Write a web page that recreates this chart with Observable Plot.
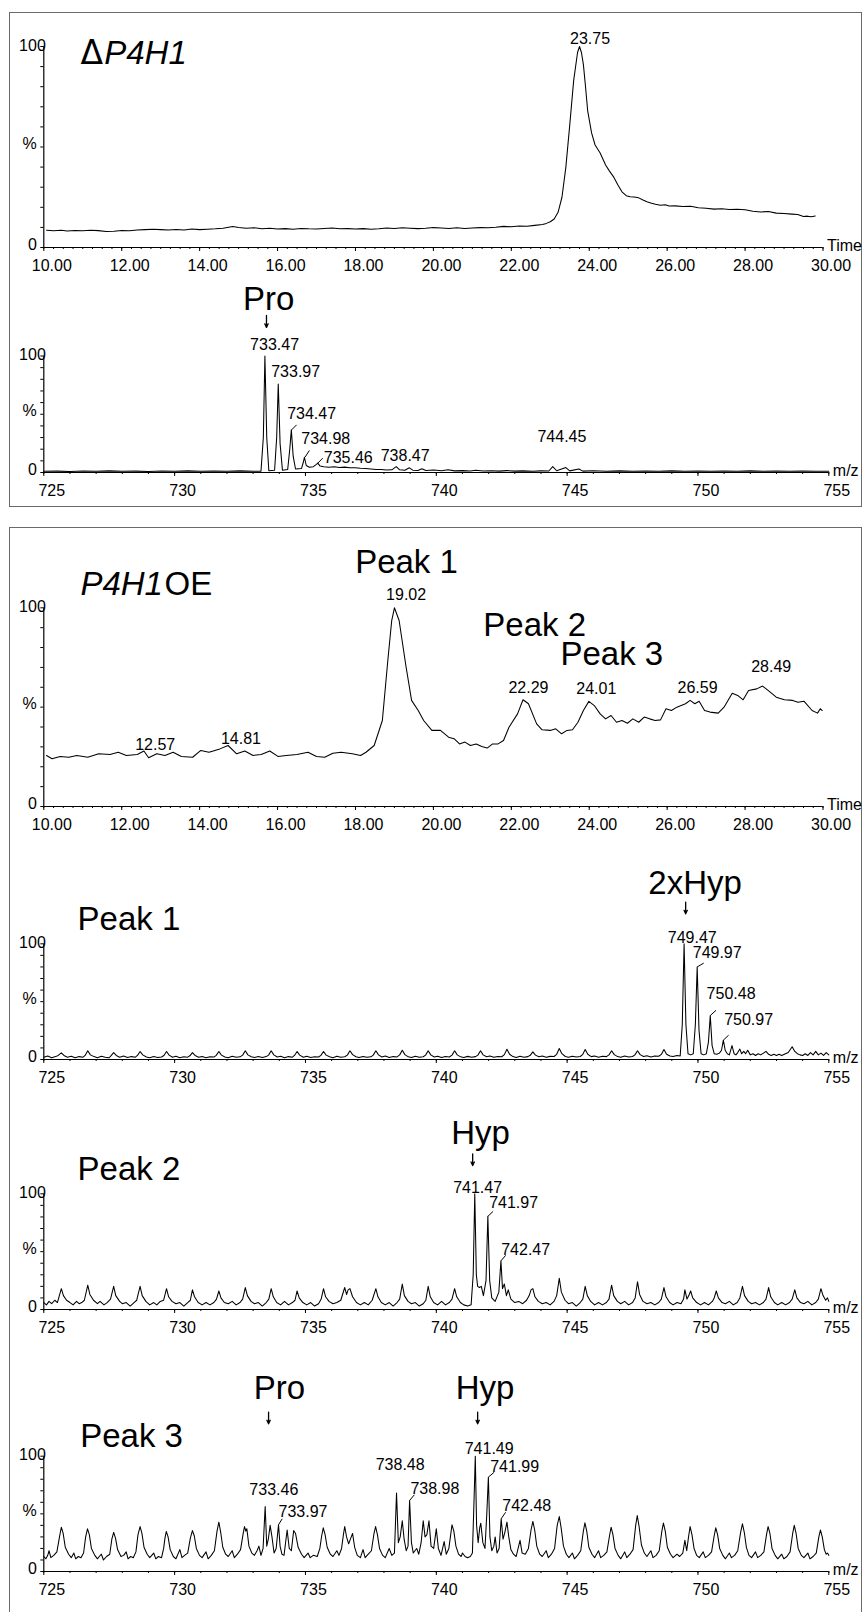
<!DOCTYPE html>
<html><head><meta charset="utf-8">
<script src="https://cdn.jsdelivr.net/npm/d3@7"></script>
<script src="https://cdn.jsdelivr.net/npm/@observablehq/plot@0.6"></script>
<style>
html,body{margin:0;padding:0;background:#fff;}
#page{position:relative;width:863px;height:1612px;overflow:hidden;background:#fff;}
.box{position:absolute;border:1.5px solid #6a6a6a;box-sizing:border-box;}
</style></head>
<body><div id="page">
<div class="box" style="left:9px;top:12px;width:853px;height:495px"></div>
<div class="box" style="left:9px;top:527px;width:853px;height:1120px"></div>
</div>
<script>
// ---------- axis ticks ----------
const yTicks = [0,10,20,30,40,50,60,70,80,90,100];
const timeTicks = [10,12,14,16,18,20,22,24,26,28,30];
const timeTickLabels = ["10.00","12.00","14.00","16.00","18.00","20.00","22.00","24.00","26.00","28.00","30.00"];
const timeMinor = d3.range(40, 121).map(i => i / 4);
const mzTicks = [725,730,735,740,745,750,755];
const mzTickLabels = ["725","730","735","740","745","750","755"];
const mzMinor = d3.range(725, 756);

// ---------- ΔP4H1 chromatogram (time, %) ----------
const chromDelta = [[10.07,8.6],[10.25,8.3],[10.45,8.6],[10.6,8.2],[10.8,8.5],[11.0,8.3],[11.2,8.6],[11.4,8.4],[11.6,8.0],[11.8,8.1],[12.0,8.5],[12.2,8.3],[12.4,8.7],[12.6,8.9],[12.8,9.1],[13.0,8.9],[13.2,8.7],[13.4,9.0],[13.6,8.7],[13.8,9.2],[14.0,8.9],[14.2,9.1],[14.4,9.3],[14.6,9.6],[14.85,10.4],[15.0,10.0],[15.2,9.6],[15.4,9.8],[15.6,9.3],[15.8,9.6],[16.0,9.2],[16.2,9.4],[16.4,9.1],[16.6,9.5],[16.8,9.3],[17.0,9.2],[17.2,9.5],[17.4,9.7],[17.6,9.3],[17.8,9.4],[18.0,9.2],[18.2,9.4],[18.4,9.1],[18.6,9.3],[18.8,9.7],[19.0,9.5],[19.2,9.8],[19.4,9.6],[19.6,9.4],[19.8,9.6],[20.0,9.9],[20.2,9.7],[20.4,9.5],[20.6,9.8],[20.8,9.5],[21.0,9.7],[21.2,9.9],[21.4,9.8],[21.6,10.1],[21.8,10.5],[22.0,10.3],[22.2,10.7],[22.4,10.6],[22.6,11.0],[22.8,11.4],[22.9,12.0],[23.0,12.8],[23.1,14.2],[23.2,17.5],[23.3,25],[23.4,40],[23.5,61],[23.6,83],[23.7,97],[23.75,100],[23.8,97],[23.85,91],[23.9,81],[23.96,68],[24.06,57],[24.15,51],[24.28,47],[24.42,41],[24.52,38],[24.63,35],[24.74,31],[24.84,27.7],[24.95,25.8],[25.05,25.2],[25.15,25.1],[25.27,24.7],[25.38,23.6],[25.48,22.8],[25.6,22.0],[25.7,21.5],[25.83,21.0],[25.95,21.3],[26.05,20.6],[26.2,20.7],[26.4,20.4],[26.6,20.5],[26.8,19.8],[27.0,19.5],[27.2,19.1],[27.4,19.3],[27.6,18.9],[27.8,19.0],[28.0,18.8],[28.2,18.0],[28.4,17.7],[28.6,17.9],[28.8,17.1],[29.0,16.9],[29.2,16.6],[29.35,16.4],[29.5,15.4],[29.6,15.6],[29.7,15.3],[29.8,15.7]];

// ---------- ΔP4H1 spectrum (m/z, %) ----------
const specDelta = [[725.0,1.0],[725.5,1.2],[726.0,0.9],[726.5,1.3],[727.0,1.0],[727.5,1.4],[728.0,1.0],[728.5,1.2],[729.0,0.9],[729.5,1.3],[730.0,1.1],[730.5,1.4],[731.0,1.0],[731.5,1.3],[732.0,1.0],[732.5,1.4],[733.0,1.1],[733.3,1.2],[733.39,30],[733.45,100],[733.52,30],[733.6,1.5],[733.82,2],[733.9,30],[733.96,76],[734.03,25],[734.12,2],[734.32,2.5],[734.4,20],[734.46,36.6],[734.53,14],[734.62,3],[734.85,3.5],[734.92,9],[734.96,13.1],[735.03,6],[735.15,4.5],[735.3,5],[735.42,7],[735.47,8],[735.56,5.5],[735.7,5],[735.9,4.5],[736.1,5],[736.3,4.3],[736.5,4.6],[736.7,4.0],[736.9,4.1],[737.1,3.6],[737.3,3.5],[737.5,3.0],[737.7,2.6],[737.9,2.5],[738.1,2.2],[738.3,2.3],[738.47,5],[738.6,2.3],[738.8,2.0],[738.97,4.0],[739.1,2],[739.3,1.8],[739.45,3.2],[739.6,1.7],[739.9,2.1],[740.2,1.5],[740.45,2.4],[740.7,1.4],[741.0,1.6],[741.3,1.3],[741.5,2.0],[741.8,1.3],[742.1,1.5],[742.4,1.2],[742.7,1.6],[743.0,1.2],[743.3,1.4],[743.7,1.1],[744.0,1.4],[744.3,1.3],[744.45,5.0],[744.6,1.5],[744.95,4.2],[745.1,1.4],[745.45,3],[745.6,1.2],[746.0,1.5],[746.5,1.1],[747.0,1.4],[747.5,1.0],[748.0,1.3],[748.5,1.0],[749.0,1.4],[749.5,1.1],[750.0,1.3],[750.5,1.0],[751.0,1.2],[751.5,1.0],[752.0,1.4],[752.5,1.1],[753.0,1.3],[753.5,1.0],[754.0,1.2],[754.5,1.0],[755.0,1.1]];

// ---------- P4H1OE chromatogram ----------
const chromOE = [[10.07,25.7],[10.21,24.0],[10.42,25.2],[10.64,24.8],[10.85,25.7],[11.13,24.8],[11.41,26.5],[11.70,26.2],[11.91,27.3],[12.12,25.7],[12.40,26.2],[12.57,27.9],[12.69,24.5],[12.90,26.5],[13.11,25.7],[13.32,27.3],[13.53,25.2],[13.82,24.8],[14.03,28.2],[14.24,27.3],[14.52,29.0],[14.73,30.7],[14.95,26.5],[15.16,27.9],[15.37,25.7],[15.58,26.2],[15.80,27.9],[16.01,25.2],[16.22,25.7],[16.50,26.2],[16.78,27.3],[17.00,25.2],[17.21,24.8],[17.42,26.8],[17.63,27.3],[17.92,26.5],[18.13,25.7],[18.27,27.3],[18.48,30.7],[18.69,43.3],[18.83,73.5],[18.93,93.6],[19.00,100],[19.12,93.6],[19.30,70.1],[19.44,53.4],[19.61,48.3],[19.75,43.3],[19.96,38.3],[20.18,38.3],[20.39,34.9],[20.53,34.1],[20.67,31.5],[20.81,32.4],[20.95,30.7],[21.10,31.5],[21.24,30.2],[21.38,29.4],[21.52,31.5],[21.66,31.5],[21.80,33.2],[21.94,39.9],[22.16,46.6],[22.30,53.7],[22.44,51.7],[22.65,41.6],[22.79,38.6],[23.00,38.3],[23.14,39.1],[23.29,36.6],[23.43,38.3],[23.57,38.6],[23.71,42.4],[23.85,48.3],[23.99,52.9],[24.13,50.8],[24.28,46.6],[24.42,44.1],[24.56,45.8],[24.70,42.4],[24.84,43.3],[24.98,41.9],[25.12,44.1],[25.27,42.4],[25.41,45.0],[25.55,44.1],[25.69,43.3],[25.83,43.6],[25.97,49.2],[26.11,48.3],[26.25,50.0],[26.47,51.7],[26.59,53.4],[26.71,51.7],[26.82,53.0],[26.96,48.3],[27.10,47.5],[27.31,47.0],[27.46,50.0],[27.67,57.0],[27.81,55.9],[27.95,53.7],[28.09,58.4],[28.30,59.2],[28.45,60.6],[28.59,58.4],[28.80,55.0],[29.01,53.7],[29.22,53.4],[29.36,52.5],[29.51,53.0],[29.72,48.3],[29.86,47.0],[29.93,49.2],[29.98,48.3]];

// ---------- Peak 1 spectrum ----------
const specPeak1 = [[725.0,2],[725.15,3],[725.3,1.5],[725.45,2.5],[725.55,3.5],[725.67,5.7],[725.77,3.5],[725.9,2],[726.05,2.8],[726.2,1.5],[726.35,2.5],[726.5,2],[726.58,3.5],[726.68,7.5],[726.78,4],[726.92,2.5],[727.05,1.6],[727.2,2.8],[727.35,2],[727.5,1.5],[727.58,3.5],[727.67,6],[727.77,3.5],[727.9,2],[728.05,3],[728.2,1.8],[728.35,2.5],[728.5,2],[728.58,3.5],[728.68,6.9],[728.78,4],[728.92,2.2],[729.05,1.6],[729.2,2.5],[729.35,1.8],[729.5,2.2],[729.59,3.5],[729.69,6.9],[729.79,3.8],[729.92,2],[730.05,2.8],[730.2,1.5],[730.35,2.4],[730.5,2],[730.58,3.2],[730.68,6],[730.78,3.5],[730.92,2],[731.05,2.6],[731.2,1.6],[731.35,2.4],[731.5,2.1],[731.59,3.6],[731.69,6.9],[731.79,3.8],[731.92,2.2],[732.05,1.5],[732.2,2.8],[732.35,2],[732.5,2.3],[732.6,3.8],[732.7,7.5],[732.8,4],[732.93,2.4],[733.05,1.8],[733.2,2.6],[733.35,1.7],[733.5,2.5],[733.59,3.8],[733.69,7.5],[733.79,4],[733.92,2.2],[734.05,2.8],[734.2,1.6],[734.35,2.5],[734.5,2],[734.58,3.5],[734.68,6.9],[734.78,3.8],[734.92,2],[735.05,2.8],[735.2,1.8],[735.35,2.4],[735.5,2.2],[735.59,3.6],[735.69,6.9],[735.79,3.8],[735.92,2.3],[736.05,1.6],[736.2,2.9],[736.35,2],[736.5,2.4],[736.6,3.8],[736.7,7.5],[736.8,4.2],[736.93,2.4],[737.05,1.8],[737.2,2.6],[737.35,2],[737.5,2.3],[737.59,3.8],[737.69,7.5],[737.79,4],[737.92,2.2],[738.05,3],[738.2,1.8],[738.35,2.5],[738.5,2.2],[738.6,4],[738.7,8],[738.8,4.2],[738.93,2.3],[739.05,1.8],[739.2,2.8],[739.35,2],[739.5,2.4],[739.59,3.8],[739.69,7.5],[739.79,4],[739.92,2.2],[740.05,2.9],[740.2,1.7],[740.35,2.6],[740.5,2.2],[740.6,3.8],[740.7,7.5],[740.8,4],[740.93,2.3],[741.05,1.8],[741.2,2.7],[741.35,2],[741.5,2.5],[741.59,3.8],[741.69,7.5],[741.79,4],[741.92,2.4],[742.05,3],[742.2,1.9],[742.35,2.6],[742.5,2.4],[742.6,4.2],[742.7,8.9],[742.8,4.5],[742.93,2.5],[743.05,1.8],[743.2,2.8],[743.35,2],[743.5,2.5],[743.59,3.6],[743.69,6.6],[743.79,3.8],[743.92,2.3],[744.05,3],[744.2,2],[744.35,2.7],[744.5,2.6],[744.6,4.5],[744.7,9.5],[744.8,5],[744.93,2.6],[745.05,2],[745.2,2.9],[745.35,2.2],[745.5,2.6],[745.59,4.2],[745.69,8.6],[745.79,4.5],[745.92,2.5],[746.05,3],[746.2,2],[746.35,2.8],[746.5,2.5],[746.6,4],[746.7,7.5],[746.8,4.2],[746.93,2.5],[747.05,2],[747.2,3],[747.35,2.2],[747.5,2.6],[747.59,4],[747.69,7.5],[747.79,4.2],[747.92,2.6],[748.05,3.2],[748.2,2.2],[748.35,3],[748.5,2.8],[748.6,4.4],[748.7,8.6],[748.8,4.6],[748.93,3],[749.05,2.5],[749.2,3.5],[749.32,3],[749.4,30],[749.47,100],[749.54,30],[749.62,5],[749.72,4],[749.82,5],[749.9,30],[749.97,80],[750.04,25],[750.12,5],[750.22,4],[750.32,5],[750.4,15],[750.47,38],[750.54,12],[750.62,5],[750.72,4.5],[750.82,5.5],[750.9,8],[750.97,16.7],[751.04,8],[751.12,5],[751.2,4],[751.3,12],[751.38,5],[751.45,4],[751.52,6],[751.6,9],[751.67,5],[751.75,7],[751.82,5],[751.9,8],[752.0,4],[752.1,5],[752.2,3.5],[752.3,5],[752.4,4],[752.5,5.5],[752.6,7],[752.7,4.5],[752.8,3.5],[752.9,4.5],[753.0,3.5],[753.1,4.5],[753.2,3.5],[753.3,4.5],[753.45,6],[753.6,11],[753.7,7],[753.8,5],[753.9,4],[754.0,3.5],[754.1,5],[754.2,3.5],[754.3,6],[754.4,4],[754.5,7],[754.6,4],[754.7,5.5],[754.8,3.5],[754.9,6],[755.0,4]];

// ---------- Peak 2 spectrum ----------
const specPeak2 = [[725.0,6],[725.1,4],[725.2,7],[725.3,5],[725.42,8],[725.52,6],[725.67,18],[725.75,12],[725.87,8],[726.0,6],[726.12,4],[726.25,7],[726.35,5],[726.45,6],[726.55,8],[726.68,21],[726.76,13],[726.9,8],[727.05,5],[727.15,7],[727.3,4],[727.42,6],[727.55,9],[727.67,20],[727.75,12],[727.9,7],[728.0,5],[728.15,6],[728.3,3],[728.45,6],[728.55,8],[728.68,20],[728.76,12],[728.9,7],[729.05,4],[729.2,6],[729.32,4],[729.45,7],[729.58,8],[729.69,18],[729.77,11],[729.9,7],[730.05,5],[730.2,6],[730.35,3],[730.5,6],[730.6,8],[730.68,17],[730.76,11],[730.9,6],[731.05,4],[731.2,6],[731.35,4],[731.5,6],[731.6,9],[731.69,16],[731.77,10],[731.9,6],[732.05,5],[732.2,7],[732.35,4],[732.5,6],[732.6,9],[732.7,19],[732.78,12],[732.92,7],[733.05,5],[733.2,6],[733.35,3],[733.5,6],[733.6,9],[733.69,18],[733.77,11],[733.9,6],[734.05,4],[734.2,7],[734.35,4],[734.5,6],[734.6,8],[734.68,16],[734.76,10],[734.9,6],[735.05,4],[735.2,6],[735.35,3],[735.5,5],[735.6,9],[735.69,18],[735.77,11],[735.9,7],[736.05,5],[736.2,6],[736.35,8],[736.5,19],[736.57,13],[736.63,17],[736.7,18],[736.8,11],[736.95,6],[737.1,4],[737.25,6],[737.4,4],[737.55,8],[737.69,18],[737.77,11],[737.9,6],[738.05,4],[738.2,6],[738.35,3],[738.5,6],[738.6,9],[738.7,22],[738.78,12],[738.92,7],[739.05,5],[739.2,6],[739.35,3],[739.5,5],[739.6,8],[739.69,20],[739.77,11],[739.9,6],[740.05,4],[740.2,7],[740.35,4],[740.5,6],[740.6,9],[740.7,18],[740.78,11],[740.92,6],[741.05,4],[741.2,3],[741.33,4],[741.41,30],[741.47,100],[741.53,30],[741.58,20],[741.65,19],[741.72,20],[741.8,12],[741.9,25],[741.97,80.5],[742.04,25],[742.12,10],[742.25,7],[742.39,15],[742.47,42],[742.53,18],[742.6,22],[742.68,12],[742.75,17],[742.85,9],[743.0,6],[743.15,7],[743.3,5],[743.45,8],[743.55,12],[743.62,17],[743.69,18],[743.77,11],[743.9,7],[744.05,5],[744.2,6],[744.35,4],[744.5,7],[744.6,12],[744.7,27],[744.78,15],[744.92,8],[745.05,5],[745.2,6],[745.35,3],[745.5,6],[745.6,9],[745.69,20],[745.77,12],[745.9,7],[746.05,4],[746.2,6],[746.35,4],[746.5,6],[746.6,9],[746.7,21],[746.78,12],[746.92,7],[747.05,5],[747.2,7],[747.35,4],[747.5,6],[747.6,10],[747.69,24],[747.77,13],[747.9,7],[748.05,5],[748.2,6],[748.35,4],[748.5,6],[748.6,9],[748.7,19],[748.78,11],[748.92,6],[749.05,4],[749.2,6],[749.35,5],[749.45,9],[749.5,17],[749.58,9],[749.65,12],[749.72,16],[749.8,10],[749.95,6],[750.1,4],[750.25,6],[750.4,4],[750.55,7],[750.62,10],[750.7,16],[750.78,10],[750.92,6],[751.05,5],[751.2,7],[751.35,4],[751.5,6],[751.6,10],[751.7,20],[751.78,12],[751.92,7],[752.05,5],[752.2,6],[752.35,4],[752.5,6],[752.6,9],[752.7,19],[752.78,11],[752.92,6],[753.05,4],[753.2,6],[753.35,4],[753.5,6],[753.6,9],[753.7,17],[753.78,10],[753.92,6],[754.05,5],[754.2,7],[754.35,4],[754.5,6],[754.6,9],[754.7,18],[754.78,12],[754.88,8],[754.95,10],[755.0,7]];

// ---------- Peak 3 spectrum ----------
const specPeak3 = [[725.0,13],[725.08,11],[725.15,14],[725.2,18],[725.27,12],[725.38,14],[725.5,17],[725.6,30],[725.67,38.4],[725.74,33],[725.82,21],[725.95,15],[726.05,12],[726.15,16],[726.22,11],[726.32,13],[726.42,12],[726.52,16],[726.6,30],[726.67,37],[726.74,32],[726.82,20],[726.95,14],[727.05,11],[727.12,13],[727.2,15],[727.28,10],[727.4,13],[727.52,15],[727.6,28],[727.67,34],[727.74,29],[727.82,19],[727.95,13],[728.05,14],[728.15,17],[728.22,11],[728.32,13],[728.42,12],[728.52,17],[728.6,32],[728.68,39],[728.75,33],[728.83,21],[728.95,15],[729.05,12],[729.2,16],[729.28,11],[729.38,13],[729.5,12],[729.58,20],[729.63,29],[729.68,34.7],[729.75,30],[729.83,19],[729.95,13],[730.05,11],[730.2,19],[730.28,12],[730.38,14],[730.5,16],[730.6,29],[730.68,35.5],[730.75,31],[730.83,20],[730.95,14],[731.05,12],[731.2,17],[731.28,11],[731.4,14],[731.52,18],[731.62,35],[731.69,42.8],[731.76,34],[731.84,21],[731.95,15],[732.05,13],[732.2,18],[732.28,12],[732.4,15],[732.52,19],[732.62,33],[732.67,39],[732.72,35],[732.76,37],[732.84,22],[732.95,16],[733.05,14],[733.15,18],[733.22,22],[733.3,14],[733.38,20],[733.46,56.4],[733.52,22],[733.58,28],[733.65,40],[733.72,30],[733.8,16],[733.88,20],[733.97,40.5],[734.03,22],[734.1,15],[734.18,14],[734.3,36],[734.38,20],[734.46,18],[734.55,35.5],[734.62,33],[734.72,21],[734.85,15],[734.95,12],[735.1,16],[735.18,12],[735.3,14],[735.45,13],[735.55,20],[735.62,31],[735.68,37.9],[735.75,32],[735.83,21],[735.95,15],[736.05,13],[736.2,18],[736.28,14],[736.38,20],[736.45,32],[736.5,39],[736.57,30],[736.65,24],[736.75,30],[736.8,33],[736.88,21],[736.98,14],[737.1,12],[737.2,19],[737.28,12],[737.4,15],[737.52,18],[737.62,33],[737.68,39],[737.75,32],[737.83,20],[737.95,14],[738.05,12],[738.2,20],[738.3,14],[738.4,16],[738.48,68],[738.55,25],[738.62,30],[738.7,44],[738.77,28],[738.85,18],[738.92,22],[738.98,61.6],[739.05,25],[739.12,16],[739.25,20],[739.33,15],[739.42,25],[739.5,44],[739.57,30],[739.64,32],[739.72,44],[739.8,22],[739.9,20],[740.0,37],[740.08,20],[740.18,14],[740.3,26],[740.38,15],[740.48,20],[740.55,32],[740.6,40.5],[740.67,35],[740.75,22],[740.85,15],[740.95,13],[741.0,16],[741.1,13],[741.2,12],[741.3,13],[741.38,16],[741.44,60],[741.49,100],[741.54,40],[741.6,25],[741.66,38],[741.7,41.9],[741.78,25],[741.86,20],[741.93,50],[741.99,81.8],[742.05,30],[742.12,18],[742.2,22],[742.25,30],[742.32,16],[742.4,20],[742.48,45.7],[742.55,28],[742.62,34],[742.7,42.8],[742.77,30],[742.85,19],[742.95,15],[743.05,13],[743.2,27],[743.28,16],[743.4,15],[743.52,20],[743.62,36],[743.69,43.4],[743.76,36],[743.84,22],[743.95,15],[744.05,13],[744.2,18],[744.28,12],[744.4,15],[744.52,20],[744.62,40],[744.7,47.7],[744.77,38],[744.86,22],[744.97,15],[745.07,12],[745.2,16],[745.28,11],[745.4,14],[745.52,18],[745.62,35],[745.68,42.2],[745.75,35],[745.83,21],[745.95,15],[746.05,12],[746.2,18],[746.28,12],[746.4,14],[746.52,17],[746.62,31],[746.68,38.4],[746.75,32],[746.83,20],[746.95,14],[747.05,11],[747.2,17],[747.28,12],[747.4,15],[747.52,19],[747.62,40],[747.68,48.6],[747.75,39],[747.84,23],[747.95,16],[748.05,13],[748.2,18],[748.28,12],[748.4,14],[748.52,18],[748.62,35],[748.68,42],[748.75,35],[748.83,21],[748.95,15],[749.05,12],[749.2,15],[749.3,13],[749.42,16],[749.5,27],[749.57,18],[749.64,30],[749.7,39],[749.77,32],[749.85,20],[749.95,14],[750.05,12],[750.2,17],[750.28,12],[750.4,14],[750.52,17],[750.62,31],[750.68,37.9],[750.75,32],[750.83,20],[750.95,14],[751.05,11],[751.2,16],[751.28,12],[751.4,14],[751.52,18],[751.63,34],[751.7,41.3],[751.77,34],[751.85,21],[751.95,14],[752.05,12],[752.2,17],[752.28,12],[752.4,14],[752.52,17],[752.62,32],[752.68,39],[752.75,33],[752.83,20],[752.95,14],[753.05,11],[753.2,15],[753.28,11],[753.4,13],[753.52,17],[753.62,33],[753.68,40],[753.75,33],[753.83,20],[753.95,14],[754.05,12],[754.2,16],[754.28,11],[754.4,13],[754.52,16],[754.62,30],[754.68,36],[754.75,30],[754.83,19],[754.9,15],[754.95,16],[755.0,14]];

// ---------- annotations (data units) ----------
const labelsChromDelta = [{x:24.02, y:101.3, t:"23.75"}];
const labelsChromOE = [{x:19.30,y:103.7,t:"19.02"},{x:22.44,y:57.0,t:"22.29"},{x:24.18,y:56.4,t:"24.01"},{x:26.78,y:56.9,t:"26.59"},{x:28.67,y:67.6,t:"28.49"},{x:12.86,y:28.2,t:"12.57"},{x:15.06,y:31.7,t:"14.81"}];
const bigChromOE = [{x:19.31,y:117.3,t:"Peak 1"},{x:22.60,y:85.6,t:"Peak 2"},{x:24.58,y:71.0,t:"Peak 3"}];

const centerSpecDelta = [{x:733.82,y:105.3,t:"733.47"},{x:738.81,y:10.3,t:"738.47"},{x:744.80,y:26.0,t:"744.45"}];
const startSpecDelta = [{x:733.69,y:81.8,t:"733.97"},{x:734.30,y:46.1,t:"734.47"},{x:734.84,y:24.6,t:"734.98"},{x:735.70,y:8.0,t:"735.46"}];
const leadSpecDelta = [{x1:734.47,y1:36.6,x2:734.66,y2:40.9},{x1:734.98,y1:13.1,x2:735.15,y2:18.9},{x1:735.47,y1:8.0,x2:735.66,y2:12.3}];

const centerPeak1 = [{x:749.78,y:101,t:"749.47"}];
const startPeak1 = [{x:749.80,y:87.3,t:"749.97"},{x:750.33,y:52.6,t:"750.48"},{x:751.0,y:29.6,t:"750.97"}];
const leadPeak1 = [{x1:749.97,y1:80,x2:750.22,y2:83.3},{x1:750.47,y1:38,x2:750.69,y2:42.5},{x1:750.97,y1:16.7,x2:751.17,y2:21.0}];

const centerPeak2 = [{x:741.58,y:101,t:"741.47"}];
const startPeak2 = [{x:742.02,y:87.3,t:"741.97"},{x:742.48,y:46.8,t:"742.47"}];
const leadPeak2 = [{x1:741.97,y1:80.5,x2:742.17,y2:84.8},{x1:742.47,y1:42,x2:742.65,y2:46.8}];

const centerPeak3 = [{x:742.02,y:102.1,t:"741.49"},{x:738.62,y:87.6,t:"738.48"},{x:733.79,y:66.5,t:"733.46"}];
const startPeak3 = [{x:742.06,y:86.1,t:"741.99"},{x:742.52,y:52.9,t:"742.48"},{x:739.01,y:67.4,t:"738.98"},{x:733.97,y:47.1,t:"733.97"}];
const leadPeak3 = [{x1:741.99,y1:81.8,x2:742.21,y2:86.1},{x1:742.48,y1:45.7,x2:742.65,y2:51.4},{x1:738.98,y1:61.6,x2:739.16,y2:66.5},{x1:733.97,y1:40.5,x2:734.11,y2:45.7}];

const FONT = '"Liberation Sans", Arial, Helvetica, sans-serif';
const page = document.getElementById("page");
const W = 863;

function panel(o) {
  const mt = o.y100 - o.top, mb = 44;
  const h = Math.round(mt + (o.y0 - o.y100) + mb);
  const [x0, x1] = o.domain;
  const T = (arr, opts) => Plot.text(arr || [], {x: "x", y: "y", text: "t", lineAnchor: "bottom", ...opts});
  const marks = [
    Plot.ruleY([0], {stroke: "black", strokeWidth: 1.2}),
    Plot.ruleX([{x: x0, a: 0, b: 100}], {x: "x", y1: "a", y2: "b", stroke: "black", strokeWidth: 1.2}),
    Plot.axisX({ticks: o.minor, tickSize: 2, fill: "none", label: null}),
    Plot.axisX({ticks: o.major, tickSize: 4, fill: "none", label: null}),
    Plot.axisX({ticks: o.major, tickSize: 0, tickPadding: 12, tickFormat: d => o.majorLabels[o.major.indexOf(d)], fontSize: 16, dx: 8, label: null}),
    Plot.axisY({ticks: yTicks, tickSize: 3, fill: "none", label: null}),
    Plot.axisY({ticks: [0, 50], tickSize: 0, tickPadding: 7, tickFormat: d => d === 50 ? "%" : "0", dy: -3, fontSize: 16, label: null}),
    Plot.axisY({ticks: [100], tickSize: 0, tickPadding: -2, tickFormat: () => "100", dy: -1, fontSize: 16, label: null}),
    Plot.text([{x: x1, y: 0, t: o.unit}], {x: "x", y: "y", text: "t", textAnchor: "start", lineAnchor: "bottom", dx: 4, dy: 3, fontSize: 16}),
    Plot.line(o.trace, {x: d => d[0], y: d => d[1], stroke: "black", strokeWidth: 1.05}),
    Plot.link(o.leaders || [], {x1: "x1", y1: "y1", x2: "x2", y2: "y2", stroke: "black", strokeWidth: 1}),
    Plot.arrow(o.arrows || [], {x1: "x", x2: "x", y1: "y1", y2: "y2", stroke: "black", strokeWidth: 1.3, headLength: 6, headAngle: 50}),
    T(o.center, {textAnchor: "middle", fontSize: 16}),
    T(o.start, {textAnchor: "start", fontSize: 16}),
    T(o.big, {textAnchor: "middle", fontSize: 33}),
    T(o.titleUp, {textAnchor: "start", fontSize: 33}),
    T(o.titleDelta, {textAnchor: "start", fontSize: 33, fontFamily: '"DejaVu Sans", sans-serif'}),
    T(o.titleIt, {textAnchor: "start", fontSize: 33, fontStyle: "italic"})
  ];
  const svg = Plot.plot({
    width: W, height: h,
    marginLeft: 43.3, marginRight: W - o.xEnd, marginTop: mt, marginBottom: mb,
    x: {domain: o.domain, axis: null},
    y: {domain: [0, 100], axis: null},
    style: {background: "transparent", overflow: "visible", fontFamily: FONT, color: "black"},
    marks
  });
  svg.style.position = "absolute";
  svg.style.left = "0px";
  svg.style.top = o.top + "px";
  page.appendChild(svg);
}

const chromBase = {domain: [10, 30], xEnd: 822.5, major: timeTicks, majorLabels: timeTickLabels, minor: timeMinor, unit: "Time"};
const specBase = {domain: [725, 755], xEnd: 828.3, major: mzTicks, majorLabels: mzTickLabels, minor: mzMinor, unit: "m/z"};

panel({...chromBase, top: 14, y100: 46, y0: 247, trace: chromDelta, center: labelsChromDelta,
  titleDelta: [{x: 10.94, y: 91.5, t: "Δ"}], titleIt: [{x: 11.55, y: 91.5, t: "P4H1"}]});

panel({...specBase, top: 280, y100: 355.5, y0: 472, trace: specDelta, center: centerSpecDelta, start: startSpecDelta,
  leaders: leadSpecDelta, big: [{x: 733.59, y: 139.7, t: "Pro"}], arrows: [{x: 733.51, y1: 134.8, y2: 124.5}]});

panel({...chromBase, top: 540, y100: 607.3, y0: 806, trace: chromOE, center: labelsChromOE, big: bigChromOE,
  titleIt: [{x: 10.94, y: 106.2, t: "P4H1"}], titleUp: [{x: 13.1, y: 106.2, t: "OE"}]});

panel({...specBase, top: 870, y100: 943.3, y0: 1059.3, trace: specPeak1, center: centerPeak1, start: startPeak1,
  leaders: leadPeak1, big: [{x: 749.89, y: 143.1, t: "2xHyp"}], arrows: [{x: 749.53, y1: 135.9, y2: 125.9}],
  titleUp: [{x: 726.29, y: 111.5, t: "Peak 1"}]});

panel({...specBase, top: 1120, y100: 1193.3, y0: 1309.3, trace: specPeak2, center: centerPeak2, start: startPeak2,
  leaders: leadPeak2, big: [{x: 741.69, y: 143.1, t: "Hyp"}], arrows: [{x: 741.39, y1: 134.5, y2: 124.4}],
  titleUp: [{x: 726.29, y: 111.5, t: "Peak 2"}]});

panel({...specBase, top: 1380, y100: 1455.7, y0: 1571, trace: specPeak3, center: centerPeak3, start: startPeak3,
  leaders: leadPeak3, big: [{x: 734.0, y: 149.8, t: "Pro"}, {x: 741.86, y: 149.8, t: "Hyp"}],
  arrows: [{x: 733.59, y1: 138.2, y2: 128.1}, {x: 741.58, y1: 138.2, y2: 128.1}],
  titleUp: [{x: 726.39, y: 107.8, t: "Peak 3"}]});
</script>
</body></html>
